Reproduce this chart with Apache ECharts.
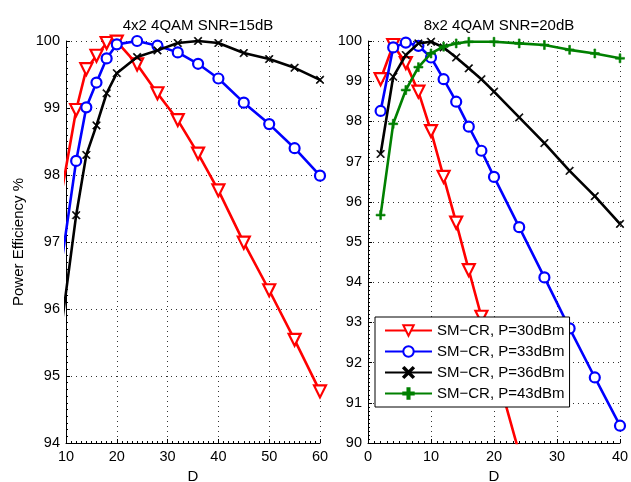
<!DOCTYPE html>
<html>
<head>
<meta charset="utf-8">
<script src="https://cdn.jsdelivr.net/npm/echarts@6/dist/echarts.min.js"></script>
<style>
html,body{margin:0;padding:0;background:#fff;}
#chart{width:631px;height:482px;}
</style>
</head>
<body>
<div id="chart"></div>
<script>
// ---- Data ----
const titles = ['4x2 4QAM SNR=15dB', '8x2 4QAM SNR=20dB'];
const names = ['SM\u2212CR, P=30dBm', 'SM\u2212CR, P=33dBm', 'SM\u2212CR, P=36dBm', 'SM\u2212CR, P=43dBm'];

// left panel
const leftD = [8, 12, 14, 16, 18, 20, 24, 28, 32, 36, 40, 45, 50, 55, 60];
const leftP30 = [97.25, 98.97, 99.58, 99.78, 99.97, 99.99, 99.65, 99.22, 98.82, 98.32, 97.77, 96.99, 96.28, 95.54, 94.77];
const leftP33 = [96.10, 98.21, 99.01, 99.38, 99.74, 99.95, 100.0, 99.93, 99.83, 99.66, 99.44, 99.08, 98.76, 98.40, 97.99];
const leftP36 = [95.10, 97.40, 98.30, 98.74, 99.22, 99.52, 99.76, 99.86, 99.97, 100.0, 99.97, 99.82, 99.73, 99.60, 99.42];

// right panel
const rightD30 = [2, 4, 6, 8, 10, 12, 14, 16, 18, 20, 24];
const rightP30 = [99.05, 99.90, 99.45, 98.74, 97.76, 96.62, 95.48, 94.30, 93.14, 92.00, 89.75];
const rightD = [2, 4, 6, 8, 10, 12, 14, 16, 18, 20, 24, 28, 32, 36, 40];
const rightP33 = [98.26, 99.84, 99.96, 99.88, 99.59, 99.05, 98.49, 97.87, 97.27, 96.62, 95.37, 94.12, 92.85, 91.63, 90.43];
const rightP36 = [97.19, 99.11, 99.65, 99.94, 99.98, 99.84, 99.59, 99.32, 99.05, 98.74, 98.10, 97.46, 96.77, 96.14, 95.45];
const rightD43 = [2, 4, 6, 8, 10, 12, 14, 16, 20, 24, 28, 32, 36, 40];
const rightP43 = [95.67, 97.94, 98.78, 99.35, 99.69, 99.86, 99.94, 99.98, 99.98, 99.94, 99.90, 99.78, 99.69, 99.57];

// axis ranges / ticks
const leftX = {min: 10, max: 60, interval: 10};
const leftY = {min: 94, max: 100, interval: 1};
const rightX = {min: 0, max: 40, interval: 10};
const rightY = {min: 90, max: 100, interval: 1};

// ---- Styling ----
const FONT = 'Liberation Sans, Arial, Helvetica, sans-serif';
const xSym = 'path://M1,0 L5,4 L9,0 L10,1 L6,5 L10,9 L9,10 L5,6 L1,10 L0,9 L4,5 L0,1 Z';
const plusSym = 'path://M4,0 L6,0 L6,4 L10,4 L10,6 L6,6 L6,10 L4,10 L4,6 L0,6 L0,4 L4,4 Z';

const styles = [
  {color: '#ff0000', symbol: 'triangle', symbolRotate: 180, symbolSize: 12, hollow: true},
  {color: '#0000ff', symbol: 'circle', symbolSize: 10, hollow: true},
  {color: '#000000', symbol: xSym, symbolSize: 8, hollow: false},
  {color: '#008000', symbol: plusSym, symbolSize: 9, hollow: false}
];

function zip(xs, ys) { return xs.map((x, i) => [x, ys[i]]); }

function mkSeries(idx, gi, xs, ys) {
  const s = styles[idx];
  return {
    name: names[idx],
    type: 'line',
    xAxisIndex: gi,
    yAxisIndex: gi,
    data: zip(xs, ys),
    clip: true,
    symbol: s.symbol,
    symbolRotate: s.symbolRotate || 0,
    symbolSize: s.symbolSize,
    showAllSymbol: true,
    lineStyle: {color: s.color, width: 2.6},
    itemStyle: s.hollow
      ? {color: '#ffffff', opacity: 1, borderColor: s.color, borderWidth: 2.2}
      : {color: s.color, borderColor: s.color, borderWidth: 0.6},
    emphasis: {disabled: true},
    animation: false,
    z: 2 + idx
  };
}

function mkX(gi, r) {
  return {
    gridIndex: gi, type: 'value', min: r.min, max: r.max, interval: r.interval,
    name: 'D', nameLocation: 'middle', nameGap: 23,
    nameTextStyle: {color: '#000', fontSize: 15, fontFamily: FONT},
    axisLine: {show: true, onZero: false, lineStyle: {color: '#000', width: 1}},
    axisTick: {show: true, inside: true, length: 4, lineStyle: {color: '#000'}},
    minorTick: {show: true, splitNumber: 10, length: 2, lineStyle: {color: '#000'}},
    axisLabel: {color: '#000', fontSize: 14.5, fontFamily: FONT, margin: 6},
    splitLine: {show: true, lineStyle: {color: '#333', type: [1, 4], width: 1}}
  };
}
function mkY(gi, r, name) {
  return {
    gridIndex: gi, type: 'value', min: r.min, max: r.max, interval: r.interval,
    name: name, nameLocation: 'middle', nameGap: 40,
    nameTextStyle: {color: '#000', fontSize: 15, fontFamily: FONT},
    axisLine: {show: true, onZero: false, lineStyle: {color: '#000', width: 1}},
    axisTick: {show: true, inside: true, length: 4, lineStyle: {color: '#000'}},
    minorTick: {show: true, splitNumber: 10, length: 2, lineStyle: {color: '#000'}},
    axisLabel: {color: '#000', fontSize: 14.5, fontFamily: FONT, margin: 6},
    splitLine: {show: true, lineStyle: {color: '#333', type: [1, 4], width: 1}}
  };
}

const chart = echarts.init(document.getElementById('chart'), null, {renderer: 'canvas'});
chart.setOption({
  animation: false,
  backgroundColor: '#fff',
  title: [
    {text: titles[0], left: 193, top: 13, textAlign: 'center',
     textStyle: {fontSize: 15, fontWeight: 'normal', color: '#000', fontFamily: FONT}},
    {text: titles[1], left: 494, top: 13, textAlign: 'center',
     textStyle: {fontSize: 15, fontWeight: 'normal', color: '#000', fontFamily: FONT}}
  ],
  grid: [
    {left: 66, right: 311, top: 41, bottom: 39, containLabel: false, outerBoundsMode: 'none'},
    {left: 368, right: 11, top: 41, bottom: 39, containLabel: false, outerBoundsMode: 'none'}
  ],
  xAxis: [mkX(0, leftX), mkX(1, rightX)],
  yAxis: [mkY(0, leftY, 'Power Efficiency %'), mkY(1, rightY, '')],
  legend: {
    data: names,
    orient: 'vertical',
    left: 375, top: 317,
    padding: [6, 5, 6, 9],
    itemGap: 6,
    itemWidth: 47, itemHeight: 13,
    backgroundColor: '#fff',
    borderColor: '#000', borderWidth: 1, borderRadius: 0,
    textStyle: {fontSize: 15, color: '#000', fontFamily: FONT},
    selectedMode: false
  },
  series: [
    mkSeries(0, 0, leftD, leftP30),
    mkSeries(1, 0, leftD, leftP33),
    mkSeries(2, 0, leftD, leftP36),
    mkSeries(0, 1, rightD30, rightP30),
    mkSeries(1, 1, rightD, rightP33),
    mkSeries(2, 1, rightD, rightP36),
    mkSeries(3, 1, rightD43, rightP43)
  ]
});
</script>
</body>
</html>
